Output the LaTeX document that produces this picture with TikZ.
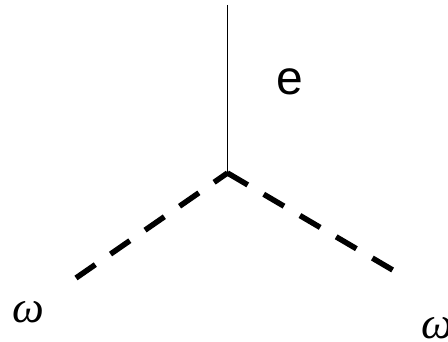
\documentclass[tikz,border=0pt]{standalone}
\usepackage{fontspec}
\setmainfont{Liberation Serif}
\newfontfamily\labsans{Liberation Sans}
\begin{document}
\begin{tikzpicture}[x=1pt,y=1pt,
  thinline/.style={line width=1.8pt},
  dashline/.style={line width=5.5pt, dash pattern=on 23.5pt off 18.5pt, line cap=butt},
  elabel/.style={inner sep=0pt, font=\labsans\fontsize{48}{48}\selectfont},
  wlabel/.style={inner sep=0pt, font=\itshape\fontsize{45}{45}\selectfont}]
\useasboundingbox (0,0) rectangle (448,342);
\coordinate (top) at (227.5,337);
\coordinate (v) at (227.5,169);
\coordinate (l) at (76,64);
\coordinate (r) at (408,63);
\draw[thinline] (top) -- (v);
\draw[dashline] (l) -- (v);
\draw[dashline] (v) -- (r);
\node[elabel] (e) at (289.5,260.5) {e};
\node[wlabel] (w1) at (28,30) {ω};
\node[wlabel] (w2) at (437,14) {ω};
\end{tikzpicture}
\end{document}
